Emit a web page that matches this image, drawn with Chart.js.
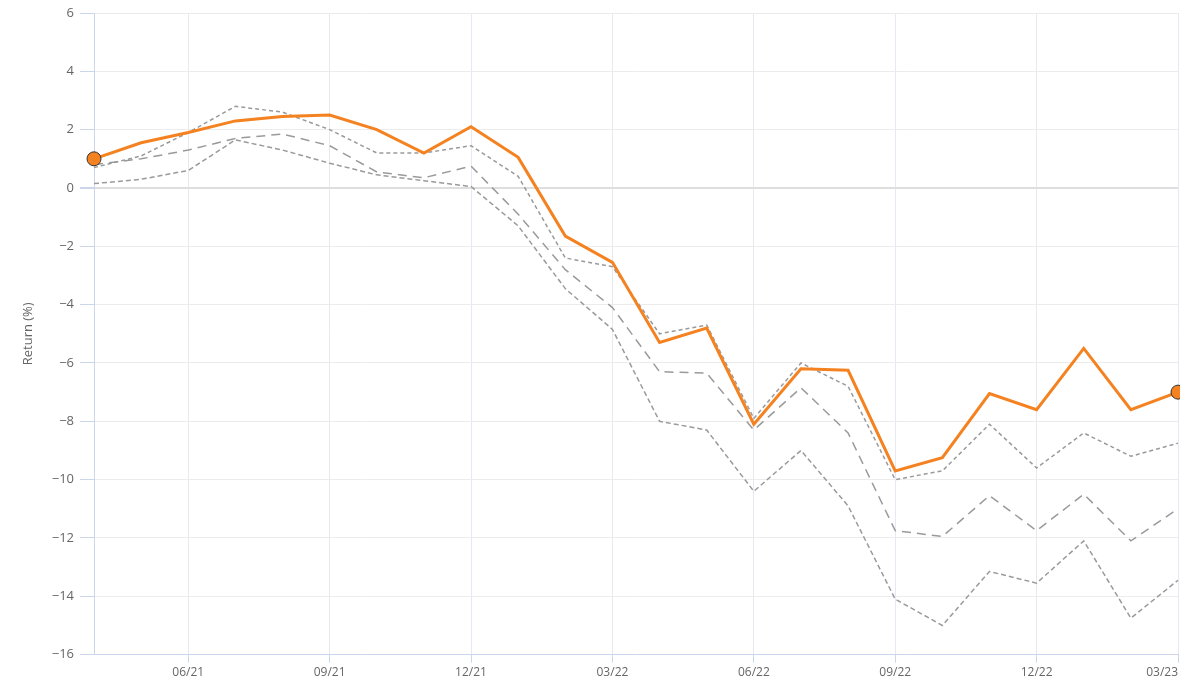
<!DOCTYPE html>
<html>
<head>
<meta charset="utf-8">
<script src="https://cdn.jsdelivr.net/npm/chart.js@4/dist/chart.umd.min.js"></script>
<style>
  html, body { margin: 0; padding: 0; background: #fff; }
  #wrap { width: 1180px; height: 683px; position: relative; }
</style>
</head>
<body>
<div id="wrap"><canvas id="chart"></canvas></div>
<script>
const months = ['04/21', '05/21', '06/21', '07/21', '08/21', '09/21', '10/21', '11/21', '12/21',
  '01/22', '02/22', '03/22', '04/22', '05/22', '06/22', '07/22', '08/22', '09/22', '10/22',
  '11/22', '12/22', '01/23', '02/23', '03/23'];

const fundReturn = [1.0, 1.55, 1.9, 2.3, 2.45, 2.5, 2.0, 1.2, 2.1, 1.05, -1.65, -2.55, -5.3, -4.8,
  -8.1, -6.2, -6.25, -9.7, -9.25, -7.05, -7.6, -5.5, -7.6, -7.0];

const peerTop = [0.7, 1.1, 1.9, 2.8, 2.6, 2.0, 1.2, 1.2, 1.45, 0.4, -2.4, -2.7, -5.0, -4.7,
  -7.9, -6.0, -6.8, -10.0, -9.7, -8.1, -9.6, -8.4, -9.2, -8.75];

const peerMid = [0.8, 1.0, 1.3, 1.7, 1.85, 1.45, 0.55, 0.35, 0.75, -0.9, -2.8, -4.1, -6.3, -6.35,
  -8.3, -6.85, -8.4, -11.75, -11.95, -10.55, -11.75, -10.5, -12.1, -11.0];

const peerLow = [0.15, 0.3, 0.6, 1.65, 1.3, 0.85, 0.45, 0.25, 0.05, -1.3, -3.45, -4.85, -8.0, -8.3,
  -10.4, -9.0, -10.9, -14.1, -15.0, -13.15, -13.55, -12.1, -14.75, -13.45];

const yTicks = [6, 4, 2, 0, -2, -4, -6, -8, -10, -12, -14, -16];

const isQuarter = (i) => i % 3 === 2;
const lastIdx = months.length - 1;

const grayLine = (label, data, dash) => ({
  label,
  data,
  borderColor: '#9a9a9a',
  borderWidth: 1.5,
  borderDash: dash,
  pointRadius: 0,
  fill: false,
  tension: 0,
  order: 2,
});

new Chart(document.getElementById('chart').getContext('2d'), {
  type: 'line',
  data: {
    labels: months,
    datasets: [
      {
        label: 'Fund',
        data: fundReturn,
        borderColor: '#f58220',
        borderWidth: 3,
        backgroundColor: '#f58220',
        pointBackgroundColor: '#f58220',
        pointBorderColor: '#333333',
        pointBorderWidth: 1,
        pointRadius: (ctx) => (ctx.dataIndex === 0 || ctx.dataIndex === lastIdx ? 7 : 0),
        pointHoverRadius: 0,
        tension: 0,
        order: 1,
        clip: false,
      },
      grayLine('Peer top', peerTop, [4, 3]),
      grayLine('Peer mid', peerMid, [9, 6]),
      grayLine('Peer low', peerLow, [5, 3]),
    ],
  },
  options: {
    responsive: true,
    maintainAspectRatio: false,
    animation: false,
    layout: { autoPadding: false, padding: { left: 20, right: 2, top: 13, bottom: 0 } },
    plugins: {
      legend: { display: false },
      tooltip: { enabled: false },
    },
    scales: {
      x: {
        offset: false,
        afterFit: (axis) => { axis.paddingRight = 0; },
        border: { color: '#ccd6eb', width: 1 },
        grid: {
          color: (ctx) => (isQuarter(ctx.index) ? '#e6e9f2' : 'rgba(0,0,0,0)'),
          tickColor: (ctx) => (isQuarter(ctx.index) ? '#ccd6eb' : 'rgba(0,0,0,0)'),
          tickLength: 8,
        },
        ticks: {
          autoSkip: false,
          maxRotation: 0,
          align: 'inner',
          color: '#666',
          font: { family: 'Open Sans', size: 12 },
          padding: 3,
          callback: (val, i) => (isQuarter(i) ? months[i] : ''),
        },
      },
      y: {
        min: -16,
        max: 6,
        afterBuildTicks: (axis) => { axis.ticks = yTicks.map((v) => ({ value: v })); },
        afterFit: (axis) => { axis.width = 74; axis.paddingTop = 0; },
        border: { color: '#ccd6eb', width: 1 },
        grid: {
          color: (ctx) => (ctx.tick && ctx.tick.value === 0 ? '#dedede' : '#ececec'),
          lineWidth: (ctx) => (ctx.tick && ctx.tick.value === 0 ? 2 : 1),
          tickColor: '#ccd6eb',
          tickLength: 14,
        },
        ticks: {
          color: '#666',
          font: { family: 'Open Sans', size: 13 },
          padding: 6,
          callback: (v) => String(v).replace('-', '\u2212'),
        },
        title: {
          display: true,
          text: 'Return (%)',
          color: '#666',
          font: { family: 'Open Sans', size: 13 },
          padding: { top: 0, bottom: 0 },
        },
      },
    },
  },
});
</script>
</body>
</html>
